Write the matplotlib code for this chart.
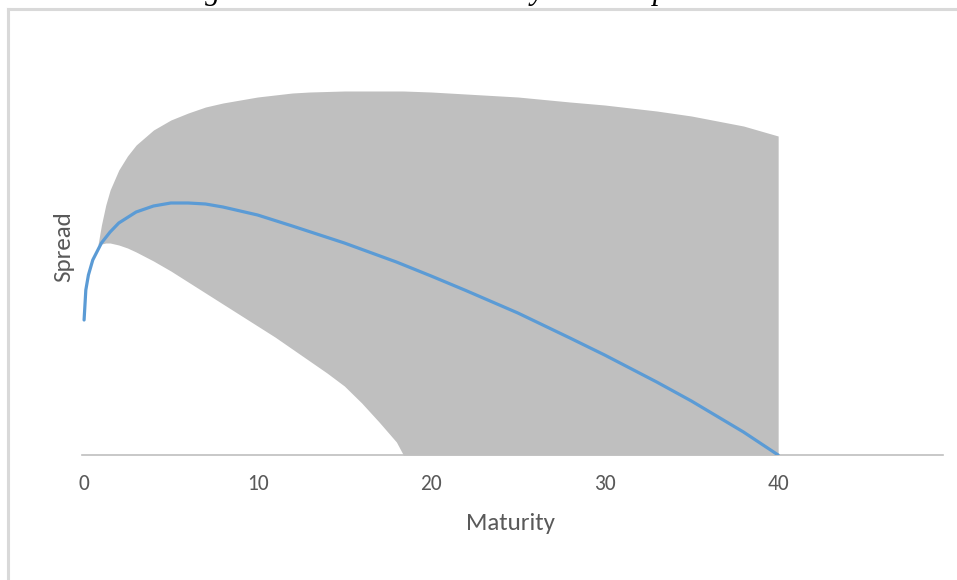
import matplotlib
matplotlib.use("Agg")
import matplotlib.pyplot as plt
from matplotlib.lines import Line2D

# ---- data ----
mean_x = [0, 0.1, 0.25, 0.5, 1, 1.5, 2, 3, 4, 5, 6, 7, 8, 10, 12, 15, 18, 20, 22, 25, 28, 30, 33, 35, 38, 40]
mean_y = [1.35, 1.65, 1.80, 1.95, 2.12, 2.23, 2.32, 2.43, 2.49, 2.52, 2.52, 2.51, 2.48, 2.40, 2.29, 2.12,
          1.93, 1.79, 1.645, 1.42, 1.17, 1.00, 0.73, 0.54, 0.23, 0.0]

band_x = [0.8, 1, 1.25, 1.5, 2, 2.5, 3, 4, 5, 6, 7, 8, 9, 10, 11, 12, 13, 14, 15, 16, 17, 18, 18.4,
          20, 22, 25, 28, 30, 33, 35, 38, 40]
upper_y = [2.10, 2.30, 2.50, 2.65, 2.85, 2.99, 3.10, 3.25, 3.35, 3.42, 3.48, 3.52, 3.55, 3.58, 3.60,
           3.62, 3.63, 3.635, 3.64, 3.64, 3.64, 3.64, 3.64,
           3.63, 3.61, 3.58, 3.53, 3.50, 3.44, 3.39, 3.29, 3.19]
lower_y = [2.10, 2.11, 2.12, 2.12, 2.10, 2.07, 2.03, 1.94, 1.84, 1.73, 1.62, 1.51, 1.40, 1.29, 1.18,
           1.06, 0.94, 0.82, 0.69, 0.52, 0.33, 0.13, 0.0,
           0.0, 0.0, 0.0, 0.0, 0.0, 0.0, 0.0, 0.0, 0.0]

x_ticks = [0, 10, 20, 30, 40]
x_label = "Maturity"
y_label = "Spread"
title = "Figure 4: Bounds on Maturity versus Spread"

# ---- figure ----
W, H = 957, 580
fig = plt.figure(figsize=(W / 100, H / 100), dpi=100)
fig.patch.set_facecolor("white")

font = ["Carlito", "Lato", "DejaVu Sans"]
txt_col = "#595959"

ax = fig.add_axes([82 / W, 1 - 455 / H, (943 - 82) / W, (455 - 60) / H])
ax.fill_between(band_x, lower_y, upper_y, color="#BFBFBF", linewidth=0, zorder=1)
ax.plot(mean_x, mean_y, color="#5B9BD5", linewidth=2.3, solid_capstyle="round", zorder=3)

ax.set_xlim(-0.12, 49.5)
ax.set_ylim(0, 3.95)
for s in ["top", "right", "left"]:
    ax.spines[s].set_visible(False)
ax.spines["bottom"].set_color("#BFBFBF")
ax.spines["bottom"].set_linewidth(1.2)
ax.spines["bottom"].set_zorder(0)
ax.set_yticks([])
ax.set_xticks(x_ticks)
ax.set_xticklabels([str(t) for t in x_ticks], family=font, fontsize=15.5, color=txt_col)
ax.tick_params(axis="x", length=0, pad=14)
ax.set_facecolor("none")

fig.text(511 / W, 1 - 523 / H, x_label, ha="center", va="center", family=font,
         fontsize=18, color=txt_col)
fig.text(64 / W, 1 - 247 / H, y_label, ha="center", va="center", rotation=90,
         family=font, fontsize=18, color=txt_col)

# outer chart frame (only left and top visible)
fig.add_artist(Line2D([8 / W, 8 / W], [0, 1 - 9 / H], transform=fig.transFigure,
                      color="#D9D9D9", linewidth=2.2))
fig.add_artist(Line2D([8 / W, 1], [1 - 9 / H, 1 - 9 / H], transform=fig.transFigure,
                      color="#D9D9D9", linewidth=2.2))

# clipped title above the frame: size and start chosen so the visible
# descenders ("g" of Figure, "p" of Spread) sit where the reference shows them
serif = ["Liberation Serif", "DejaVu Serif"]
renderer = fig.canvas.get_renderer()


def text_width(s, size):
    t = fig.text(0, 0, s, fontsize=size, family=serif, fontstyle="italic")
    w = t.get_window_extent(renderer).width
    t.remove()
    return w


base = 20.0
w_g = text_width("Fi", base)
w_p = text_width(title[: title.index("Spread") + 1], base)
size = base * (676 - 205) / (w_p - w_g)
size = min(max(size, 17.0), 22.0)
x0 = 205 - w_g * size / base
fig.text(x0 / W, 1.0 + 1.0 / H, title, ha="left", va="baseline", family=serif,
         fontstyle="italic", fontsize=size, color="black")

fig.savefig("out.png", dpi=100, facecolor="white")
